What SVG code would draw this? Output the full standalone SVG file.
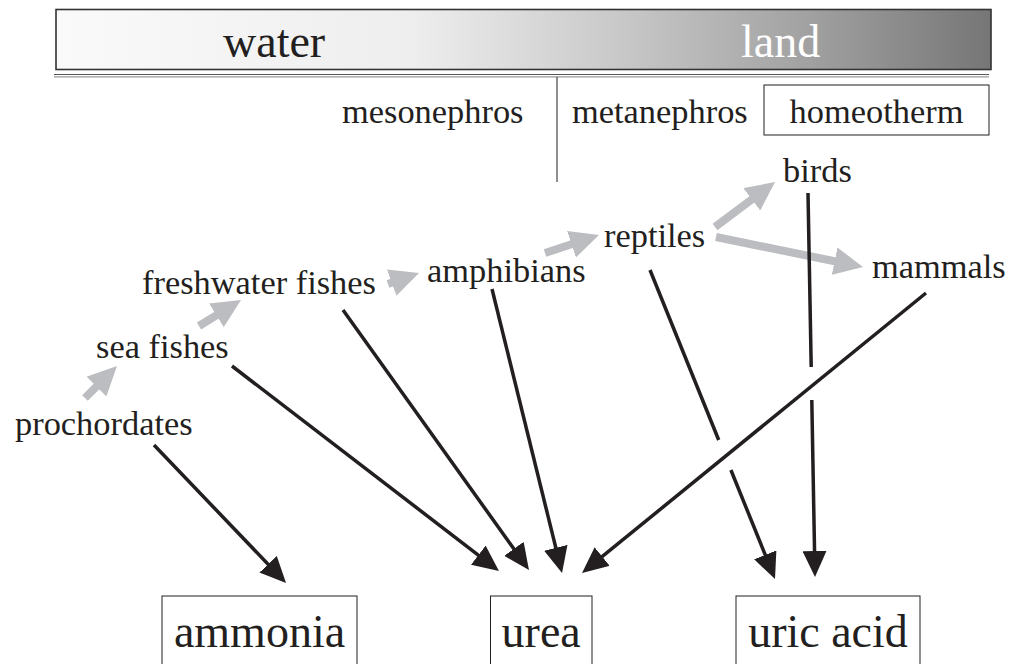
<svg xmlns="http://www.w3.org/2000/svg" width="1015" height="664" viewBox="0 0 1015 664">
<style>
.t{font-family:"Liberation Serif","Times New Roman",serif;fill:#231f20}
.n{font-size:34.4px}
.big{font-size:46px}
.bx{fill:none;stroke:#231f20;stroke-width:1}
.blk{stroke:#231f20;stroke-width:3.5;fill:none}
.gry{stroke:#bcbdc0;stroke-width:8;fill:none}
</style>
<defs>
<linearGradient id="bar" gradientUnits="userSpaceOnUse" x1="56" y1="0" x2="991" y2="0">
<stop offset="0" stop-color="#fafafa"/>
<stop offset="0.38" stop-color="#eeeeee"/>
<stop offset="0.6" stop-color="#c9c9c9"/>
<stop offset="0.8" stop-color="#a2a2a2"/>
<stop offset="1" stop-color="#767676"/>
</linearGradient>
<marker id="ah" markerUnits="userSpaceOnUse" markerWidth="26" markerHeight="24" refX="20" refY="12" orient="auto">
<path d="M0,0 L26,12 L0,24 z" fill="#231f20"/>
</marker>
<marker id="gh" markerUnits="userSpaceOnUse" markerWidth="29" markerHeight="28" refX="19" refY="14" orient="auto">
<path d="M0,0 L29,14 L0,28 z" fill="#bcbdc0"/>
</marker>
</defs>

<g id="habitat-bar">
<rect x="56" y="9.5" width="935" height="60" fill="url(#bar)" stroke="#333" stroke-width="1.6"/>
<text class="t big" x="223" y="57">water</text>
<text class="t big" x="741" y="57" style="fill:#ffffff">land</text>
</g>
<g id="divider">
<line x1="54" y1="74.5" x2="989" y2="74.5" stroke="#555" stroke-width="1"/>
<line x1="54" y1="76.8" x2="989" y2="76.8" stroke="#999" stroke-width="1.2"/>
<line x1="557" y1="77" x2="557" y2="182" stroke="#231f20" stroke-width="1"/>
</g>
<g id="mesonephros"><text class="t n" x="342" y="123">mesonephros</text></g>
<g id="metanephros"><text class="t n" x="572" y="123">metanephros</text></g>
<g id="homeotherm">
<rect class="bx" x="764" y="85" width="225" height="50"/>
<text class="t n" x="876.5" y="123" text-anchor="middle">homeotherm</text>
</g>

<g id="prochordates"><text class="t n" x="15" y="435">prochordates</text></g>
<g id="sea-fishes"><text class="t n" x="96" y="358">sea fishes</text></g>
<g id="freshwater-fishes"><text class="t n" x="142" y="294">freshwater fishes</text></g>
<g id="amphibians"><text class="t n" x="427" y="282">amphibians</text></g>
<g id="reptiles"><text class="t n" x="604" y="247">reptiles</text></g>
<g id="birds"><text class="t n" x="783" y="182">birds</text></g>
<g id="mammals"><text class="t n" x="872" y="278">mammals</text></g>

<g id="ammonia">
<rect class="bx" x="162" y="596" width="195" height="110"/>
<text class="t big" x="259.5" y="647" text-anchor="middle">ammonia</text>
</g>
<g id="urea">
<rect class="bx" x="490.5" y="596" width="101.5" height="110"/>
<text class="t big" x="541.2" y="647" text-anchor="middle">urea</text>
</g>
<g id="uric-acid">
<rect class="bx" x="736" y="596" width="184" height="110"/>
<text class="t big" x="828" y="647" text-anchor="middle">uric acid</text>
</g>

<g id="connectors">
<line class="gry" x1="85" y1="398" x2="109.9" y2="373.1" marker-end="url(#gh)"/>
<line class="gry" x1="199" y1="326" x2="232.5" y2="305.3" marker-end="url(#gh)"/>
<line class="gry" x1="388" y1="284" x2="409.6" y2="276.3" marker-end="url(#gh)"/>
<line class="gry" x1="545" y1="253" x2="589.5" y2="238.2" marker-end="url(#gh)"/>
<line class="gry" x1="715" y1="227" x2="767" y2="188" marker-end="url(#gh)"/>
<line class="gry" x1="716" y1="237" x2="853.2" y2="265" marker-end="url(#gh)"/>

<line class="blk" x1="154" y1="445" x2="281.9" y2="578.7" marker-end="url(#ah)"/>
<line class="blk" x1="232" y1="366" x2="494.2" y2="567.3" marker-end="url(#ah)"/>
<line class="blk" x1="343" y1="310" x2="525.5" y2="565.1" marker-end="url(#ah)"/>
<line class="blk" x1="492" y1="289" x2="560.6" y2="567.2" marker-end="url(#ah)"/>
<line class="blk" x1="926" y1="293" x2="586.7" y2="569.2" marker-end="url(#ah)"/>
<line class="blk" x1="650" y1="270" x2="718.7" y2="440"/>
<line class="blk" x1="730.9" y1="470" x2="772.75" y2="573.4" marker-end="url(#ah)"/>
<line class="blk" x1="808" y1="193" x2="811.2" y2="367"/>
<line class="blk" x1="811.8" y1="400" x2="814.9" y2="571" marker-end="url(#ah)"/>
</g>
</svg>
